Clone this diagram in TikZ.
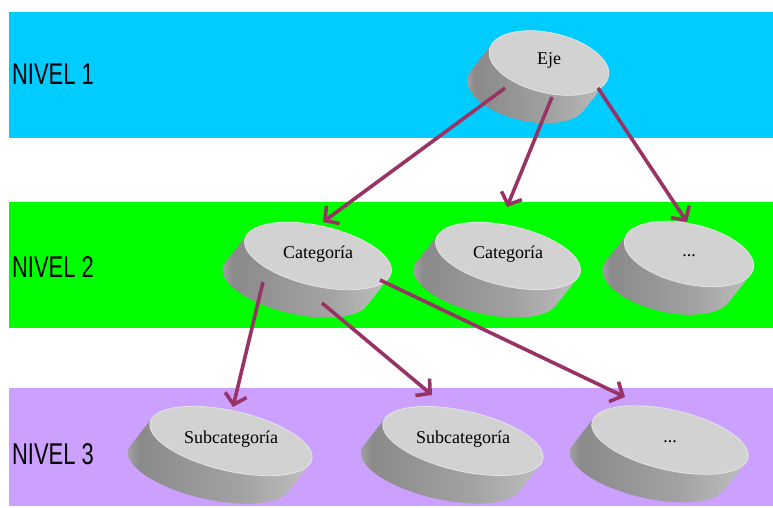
\documentclass[tikz,border=0pt]{standalone}
\usepackage{fontspec}
\setmainfont{Liberation Serif}
\newfontfamily\levelfont{Liberation Sans}
\usetikzlibrary{arrows.meta,calc}

\definecolor{bandblue}{HTML}{00CCFF}
\definecolor{bandgreen}{HTML}{00FF00}
\definecolor{bandlilac}{HTML}{CBA0FF}
\definecolor{linkplum}{HTML}{993366}
\definecolor{topgray}{HTML}{D2D2D2}
\definecolor{rimgray}{HTML}{E4E4E4}
\definecolor{sideedge}{HTML}{B2B2B2}
\definecolor{sidedark}{HTML}{8A8A8A}
\definecolor{sidemid}{HTML}{A2A2A2}
\definecolor{sidelight}{HTML}{C2C2C2}

% cylinder wall: light rim on the far left, dark band, brightening to the right
\pgfdeclarehorizontalshading{diskside}{100bp}{%
  color(0bp)=(sideedge); color(25bp)=(sideedge); color(30bp)=(sidedark);
  color(55bp)=(sidemid); color(75bp)=(sidelight); color(100bp)=(sidelight)}

\tikzset{
  levellabel/.style={font=\levelfont\fontsize{30}{30}\selectfont, xscale=0.73,
    anchor=west, inner sep=0pt, text=black},
  disklabel/.style={font=\fontsize{18}{18}\selectfont, inner sep=0pt, text=black,
    text height=12pt, text depth=4pt},
  topface/.style={fill=topgray, draw=rimgray, line width=0.8},
  link/.style={draw=linkplum, line width=3.6,
    -{Straight Barb[length=10pt, width=22pt]}},
}

% tilted disk: #1 node name, #2 centre, #3 half length of the top face, #4 text
\newcommand\drawdisk[4]{%
  \pgfmathsetmacro\dkA{#3}%
  \pgfmathsetmacro\dkT{atan(-\dkB*\dkP/(\dkA*\dkQ))}%
  \begin{scope}[shift={#2}, rotate=\dkTilt]
    \shade[shading=diskside]
      (\dkT:\dkA\space and \dkB)
      arc[start angle=\dkT, end angle=\dkT+180, x radius=\dkA, y radius=\dkB]
      -- ++(\dkP,\dkQ)
      arc[start angle=\dkT+180, end angle=\dkT+360, x radius=\dkA, y radius=\dkB]
      -- cycle;
    \path[topface] (0,0) ellipse[x radius=\dkA, y radius=\dkB];
  \end{scope}
  \node[disklabel] (#1) at ($#2+(0,2)$) {#4};
}

\begin{document}
\begin{tikzpicture}[x=1pt, y=1pt]
  \useasboundingbox (0,0) rectangle (773,-508);

  % disk geometry shared by all disks
  \def\dkTilt{-13}
  \def\dkB{30}
  \pgfmathsetmacro\dkP{-22*cos(13) + 28*sin(13)}
  \pgfmathsetmacro\dkQ{-22*sin(13) - 28*cos(13)}

  % level bands
  \fill[bandblue]  (9,-12)  rectangle (773,-138);
  \fill[bandgreen] (9,-202) rectangle (773,-328);
  \fill[bandlilac] (9,-388) rectangle (773,-506);

  \node[levellabel] (n1) at (12,-74)  {NIVEL 1};
  \node[levellabel] (n2) at (12,-267) {NIVEL 2};
  \node[levellabel] (n3) at (12,-454) {NIVEL 3};

  % level 1
  \drawdisk{eje}{(549,-63)}{61}{Eje}
  % level 2
  \drawdisk{c1}{(318,-256)}{75}{Categoría}
  \drawdisk{c2}{(508,-256)}{74}{Categoría}
  \drawdisk{c3}{(689,-254)}{66}{...}
  % level 3
  \drawdisk{s1}{(231,-441)}{83}{Subcategoría}
  \drawdisk{s2}{(463,-441)}{82}{Subcategoría}
  \drawdisk{s3}{(670,-440)}{80}{...}

  % hierarchy links
  \draw[link] ($(eje)+(-44,-27)$) -- ($(c1)+(5,32)$);
  \draw[link] ($(eje)+(3,-36)$)   -- ($(c2)+(-1,47)$);
  \draw[link] ($(eje)+(49,-27)$)  -- ($(c3)+(-2,30)$);
  \draw[link] ($(c1)+(-55,-28)$)  -- ($(s1)+(2,32)$);
  \draw[link] ($(c1)+(4,-49)$)    -- ($(s2)+(-31,44)$);
  \draw[link] ($(c1)+(62,-26)$)   -- ($(s3)+(-45,41)$);
\end{tikzpicture}
\end{document}
